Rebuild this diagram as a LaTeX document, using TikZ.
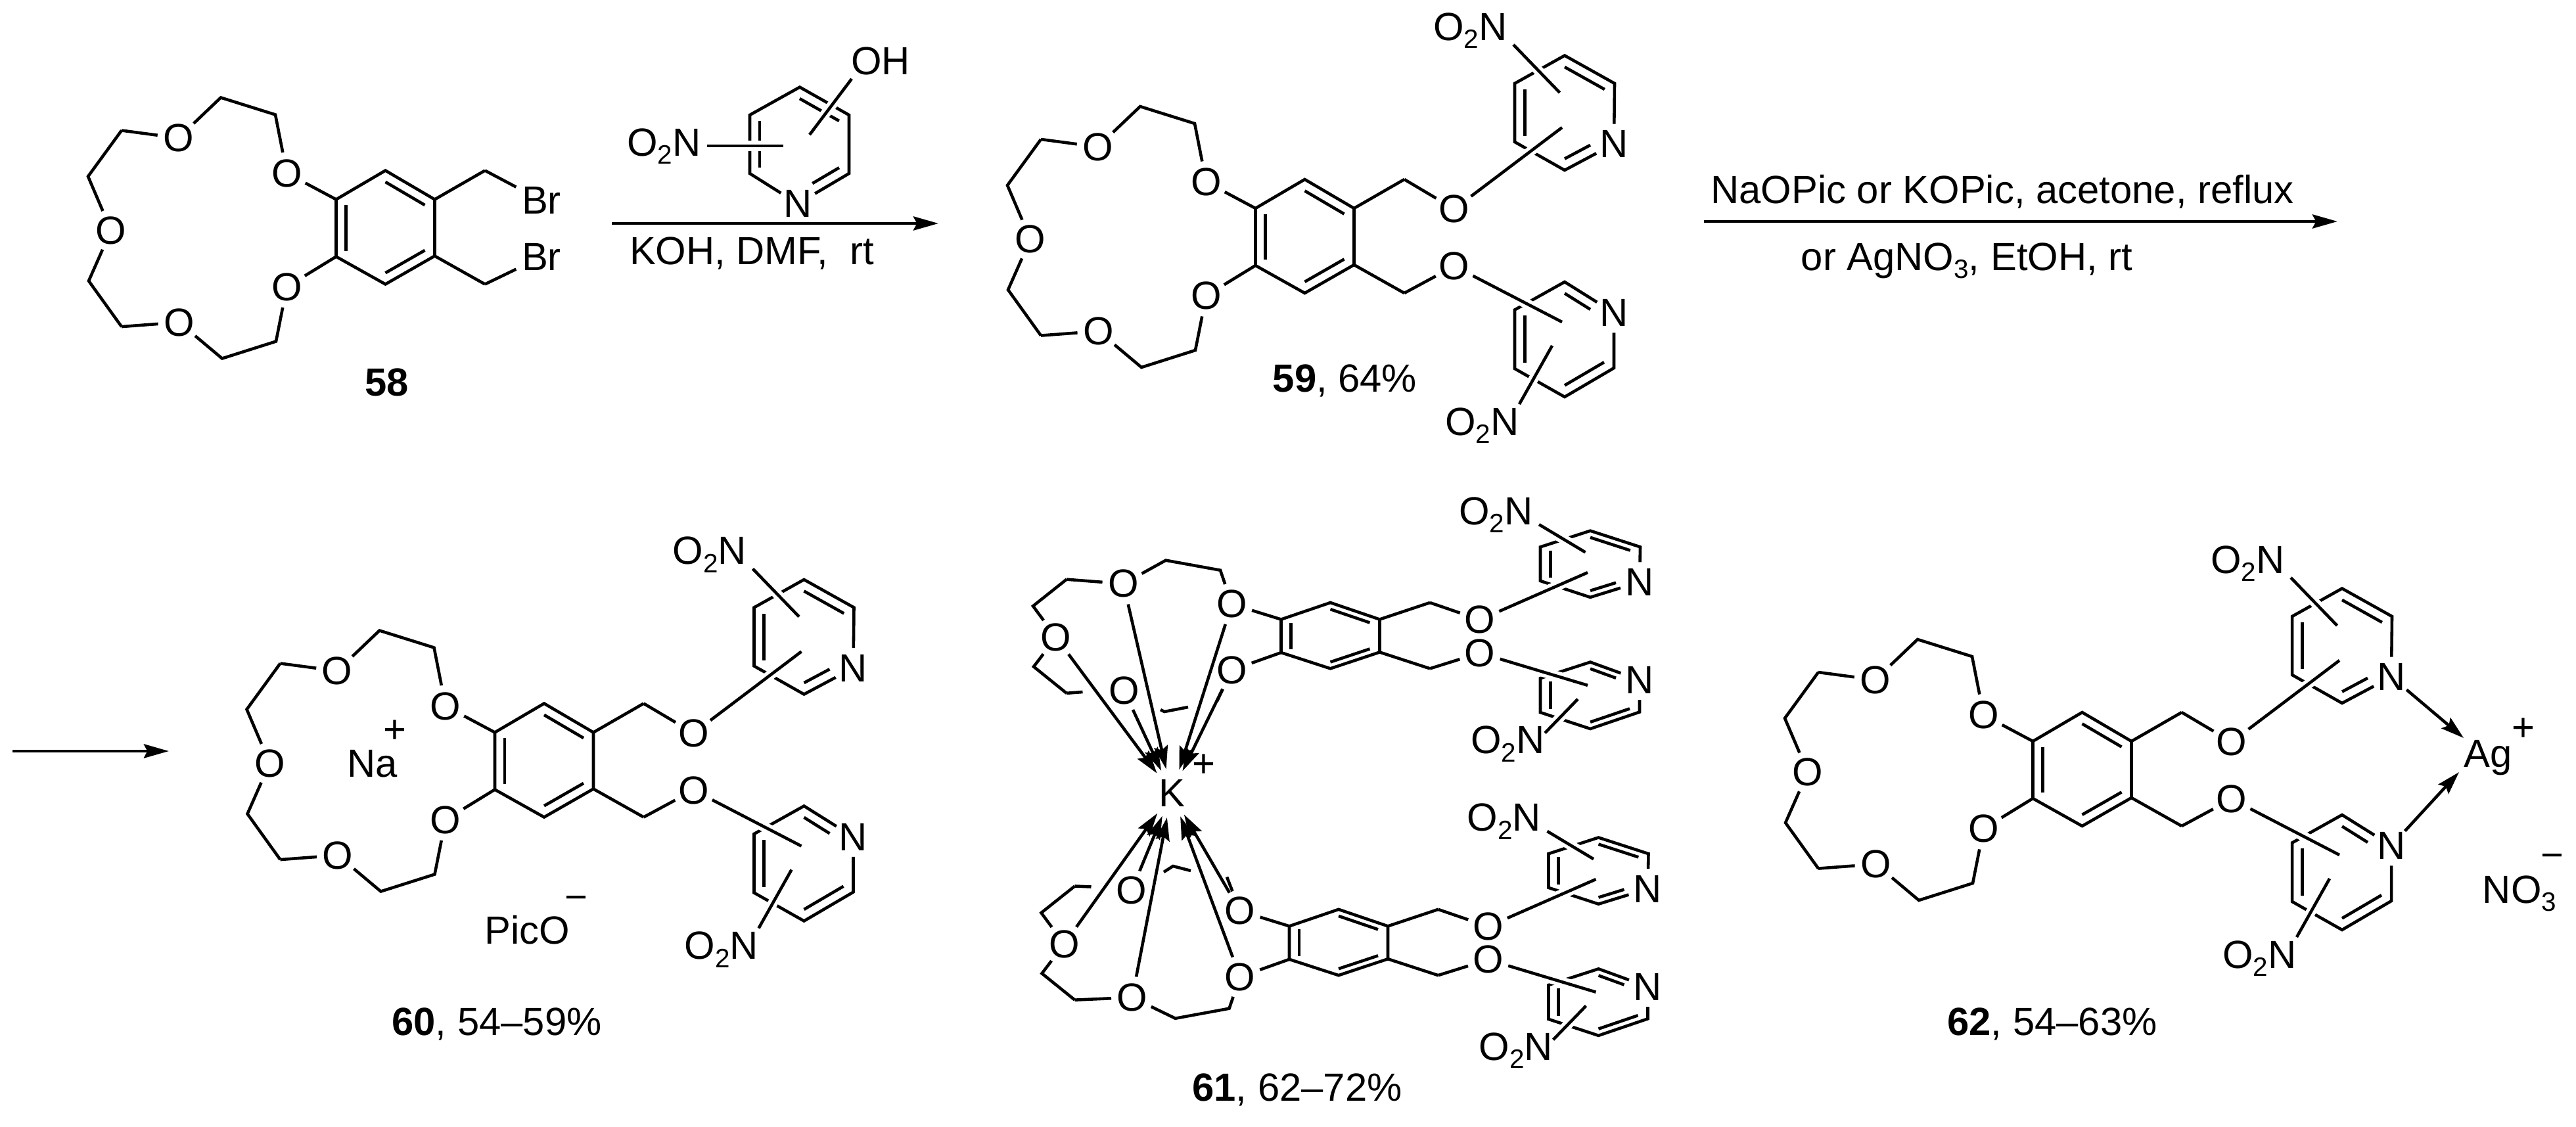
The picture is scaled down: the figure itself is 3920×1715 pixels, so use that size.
\documentclass[tikz,border=0pt]{standalone}
\usepackage{fontspec}
\setmainfont{Liberation Sans}
\usetikzlibrary{arrows.meta,calc}

\newcommand{\subdigit}[1]{\raisebox{-3.5pt}{\fontsize{11.5}{12}\selectfont #1}}
% inner line of a double bond, optional part for ends next to N
\newcommand{\innerbond}[4][1]{\draw ($(#2)!.2!(#4)$) -- ($($(#2)!.2!(#4)$)!#1!($(#3)!.2!(#4)$)$);}

\tikzset{
  bond/.style={line width=1.3pt,line cap=butt,line join=miter},
  over/.style={bond,preaction={draw=white,line width=4.3pt}},
  atom/.style={circle,inner sep=0pt,minimum size=16.4pt},
  txt/.style={inner sep=0pt,anchor=mid},
  nitro/.style={inner sep=0pt,anchor=mid east},
  reaction/.style={line width=1.36pt,-{Stealth[length=10.8pt,width=6pt,inset=1.5pt]}},
  dative/.style={line width=1.3pt,-{Stealth[length=10pt,width=6pt,inset=1.6pt]}},
  crowncore/.pic={
    \node[atom] (o1) at (-315,-136.5) {O};
    \node[atom] (o2) at (-150,-83) {O};
    \node[atom] (o3) at (-417.5,4) {O};
    \node[atom] (o4) at (-150,90) {O};
    \node[atom] (o5) at (-314,144) {O};
    \coordinate (cr) at (0,0);
    \coordinate (r1) at (-75,-43);
    \coordinate (r2) at (0,-87);
    \coordinate (r3) at (75,-43);
    \coordinate (r4) at (75,43);
    \coordinate (r5) at (0,86);
    \coordinate (r6) at (-75,44);
    \coordinate (a) at (-167.5,-172);
    \coordinate (b) at (-250.5,-198);
    \coordinate (c) at (-401.5,-148);
    \coordinate (d) at (-452.5,-78);
    \coordinate (e) at (-451.5,81);
    \coordinate (f) at (-401.5,150.6);
    \coordinate (g) at (-248.5,199);
    \coordinate (h) at (-166.5,173);
    \coordinate (k1) at (151.5,-87);
    \coordinate (k2) at (151.5,86);
    \draw[bond] (r1) -- (r2) -- (r3) -- (r4) -- (r5) -- (r6) -- cycle;
    \draw[bond] (o2) -- (r1);
    \draw[bond] (o4) -- (r6);
    \draw[bond] (r3) -- (k1);
    \draw[bond] (r4) -- (k2);
    \draw[bond] (c) -- (d) -- (o3) -- (e) -- (f);
    \begin{scope}[bond]
      \innerbond{r6}{r1}{cr}
      \innerbond{r2}{r3}{cr}
      \innerbond{r4}{r5}{cr}
    \end{scope}
  },
  crowntop/.pic={\draw[bond] (o2) -- (a) -- (b) -- (o1) -- (c);},
  crownbot/.pic={\draw[bond] (f) -- (o5) -- (g) -- (h) -- (o4);},
  pyarms/.pic={
    \node[atom] (o6) at (227.5,-42) {O};
    \node[atom] (o7) at (227.5,45) {O};
    \node[atom] (n1) at (470.5,-141) {N};
    \node[atom] (n2) at (470.5,116) {N};
    \coordinate (pc) at (395.5,-188);
    \coordinate (p1) at (395.5,-275.5);
    \coordinate (p2) at (471.5,-233);
    \coordinate (p4) at (395.5,-101);
    \coordinate (p5) at (319.5,-144);
    \coordinate (p6) at (319.5,-233);
    \coordinate (qc) at (395.5,156);
    \coordinate (q1) at (395.5,69);
    \coordinate (q3) at (470.5,200);
    \coordinate (q4) at (395.5,244);
    \coordinate (q5) at (319.5,201);
    \coordinate (q6) at (319.5,111.5);
    \draw[bond] (k1) -- (o6);
    \draw[bond] (k2) -- (o7);
    % top ring
    \draw[bond] (n1) -- (p2) -- (p1) -- (p6) -- (p5) -- (p4) -- (n1);
    \begin{scope}[bond]
      \innerbond{p5}{p6}{pc}
      \innerbond{p1}{p2}{pc}
      \innerbond[.65]{p4}{n1}{pc}
    \end{scope}
    % bottom ring
    \draw[bond] (n2) -- (q1) -- (q6) -- (q5) -- (q4) -- (q3) -- (n2);
    \begin{scope}[bond]
      \innerbond{q5}{q6}{qc}
      \innerbond{q3}{q4}{qc}
      \innerbond[.65]{q1}{n2}{qc}
    \end{scope}
    % substituents cross the rings
    \node[nitro] (no2a) at (308.5,-308) {O\subdigit{2}N};
    \node[nitro] (no2b) at (326.5,293) {O\subdigit{2}N};
    \coordinate (sa) at (391.5,-166);
    \coordinate (sb) at (391.5,130);
    \coordinate (ta1) at (317.5,-292);
    \coordinate (ta2) at (388,-219);
    \coordinate (tb1) at (376.5,166);
    \coordinate (tb2) at (326.5,255);
    \draw[over] (o6) -- (sa);
    \draw[over] (o7) -- (sb);
    \draw[over] (ta1) -- (ta2);
    \draw[over] (tb1) -- (tb2);
  }
}

\begin{document}
\begin{tikzpicture}[x=0.01cm,y=-0.01cm,font=\fontsize{17}{19}\selectfont]
    \useasboundingbox (0,0) rectangle (3920,1715);

    % 58
    \pic (a-) at (586.5,346.5) {crowncore};
    \pic (a-) at (586.5,346.5) {crowntop};
    \pic (a-) at (586.5,346.5) {crownbot};
    \node[inner sep=0pt,outer sep=2.5pt] (bra) at (824,305) {Br};
    \node[inner sep=0pt,outer sep=2.5pt] (brb) at (824,391) {Br};
    \draw[bond] (a-k1) -- (bra);
    \draw[bond] (a-k2) -- (brb);
    \node[txt] (tag58) at (589,593) {\textbf{58}};

    % reagent
    \node[atom] (rn) at (1214,310) {N};
    \coordinate (rc) at (1216.5,220);
    \coordinate (r1) at (1217,132.6);
    \coordinate (r2) at (1292,175);
    \coordinate (r3) at (1292,264);
    \coordinate (r5) at (1141,264);
    \coordinate (r6) at (1141,175);
    \draw[bond] (rn) -- (r3) -- (r2) -- (r1) -- (r6) -- (r5) -- (rn);
    \begin{scope}[bond]
      \innerbond{r5}{r6}{rc}
      \innerbond{r1}{r2}{rc}
      \innerbond[.65]{r3}{rn}{rc}
    \end{scope}
    \node[nitro] (rno2) at (1067,228) {O\subdigit{2}N};
    \node[txt] (roh) at (1340,104) {OH};
    \coordinate (rs1) at (1076,222);
    \coordinate (rs2) at (1192,222);
    \coordinate (rs3) at (1296,120);
    \coordinate (rs4) at (1232,205);
    \draw[over] (rs1) -- (rs2);
    \draw[over] (rs3) -- (rs4);

    % first arrow
    \coordinate (ar1s) at (931,340);
    \coordinate (ar1e) at (1428,340);
    \draw[reaction] (ar1s) -- (ar1e);
    \node[txt] (cond1) at (1144,393) {KOH, DMF,\ \ rt};

    % 59
    \pic (b-) at (1985.5,360) {crowncore};
    \pic (b-) at (1985.5,360) {crowntop};
    \pic (b-) at (1985.5,360) {crownbot};
    \pic (b-) at (1985.5,360) {pyarms};
    \node[txt] (tag59) at (2046.5,587) {\textbf{59}, 64\%};

    % second arrow
    \coordinate (ar2s) at (2593,337);
    \coordinate (ar2e) at (3557,337);
    \draw[reaction] (ar2s) -- (ar2e);
    \node[txt] (cond2) at (3047,300) {NaOPic or KOPic, acetone, reflux};
    \node[txt] (cond3) at (2993,402) {or AgNO\subdigit{3}, EtOH, rt};

    % third arrow
    \coordinate (ar3s) at (19,1143);
    \coordinate (ar3e) at (257,1143);
    \draw[reaction] (ar3s) -- (ar3e);

    % 60
    \pic (c-) at (828,1157.5) {crowncore};
    \pic (c-) at (828,1157.5) {crowntop};
    \pic (c-) at (828,1157.5) {crownbot};
    \pic (c-) at (828,1157.5) {pyarms};
    \node[txt] (na) at (566.5,1173) {Na};
    \node[inner sep=0pt] (naplus) at (601,1113) {+};
    \node[txt] (pico) at (802,1427) {PicO};
    \node[inner sep=0pt] (picminus) at (877,1374) {−};
    \node[txt] (tag60) at (756,1566) {\textbf{60}, 54–59\%};

    % 61 upper half
    \pic[yscale=.58] (u-) at (2024.5,967.5) {crowncore};
    \pic[yscale=.58] (u-) at (2024.5,967.5) {crowntop};
    \pic[yscale=.58] (u-) at (2024.5,967.5) {pyarms};
    \coordinate (us1) at (1647.5,1053);
    \coordinate (us2) at (1766,1080);
    \coordinate (us3) at (1772,1083);
    \coordinate (us4) at (1808,1076);
    \coordinate (us5) at (1852,1067);
    \draw[bond] (u-f) -- (us1);
    \draw[bond] (us2) -- (us3) -- (us4);
    \draw[bond] (u-o4) -- (us5);

    % 61 lower half
    \pic[yscale=.58] (l-) at (2037,1434.3) {crowncore};
    \pic[yscale=.58] (l-) at (2037,1434.3) {crownbot};
    \pic[yscale=.58] (l-) at (2037,1434.3) {pyarms};
    \coordinate (ls1) at (1660.5,1349.5);
    \coordinate (ls2) at (1771,1327);
    \coordinate (ls3) at (1785,1318);
    \coordinate (ls4) at (1812,1325);
    \coordinate (ls5) at (1867,1334.5);
    \draw[bond] (l-c) -- (ls1);
    \draw[bond] (ls2) -- (ls3) -- (ls4);
    \draw[bond] (l-o2) -- (ls5);

    % K and its arrows
    \node[atom,minimum size=21pt] (k) at (1783,1207) {K};
    \node[inner sep=0pt] (kplus) at (1832,1165) {+};
    \foreach \from in {u-o1,u-o2,u-o3,u-o4,u-o5,l-o1,l-o2,l-o3,l-o4,l-o5}
        \draw[dative] (\from) -- (k);
    \node[txt] (tag61) at (1974,1666) {\textbf{61}, 62–72\%};

    % 62
    \pic (d-) at (3168.5,1171) {crowncore};
    \pic (d-) at (3168.5,1171) {crowntop};
    \pic (d-) at (3168.5,1171) {crownbot};
    \pic (d-) at (3168.5,1171) {pyarms};
    \node[txt] (ag) at (3786,1158) {Ag};
    \node[inner sep=0pt] (agplus) at (3840,1110) {+};
    \coordinate (agt) at (3749,1123);
    \coordinate (agb) at (3742,1175);
    \draw[dative] (d-n1) -- (agt);
    \draw[dative] (d-n2) -- (agb);
    \node[txt] (no3) at (3834,1365) {NO\subdigit{3}};
    \node[inner sep=0pt] (nominus) at (3884,1310) {−};
    \node[txt] (tag62) at (3123,1566) {\textbf{62}, 54–63\%};
\end{tikzpicture}
\end{document}
